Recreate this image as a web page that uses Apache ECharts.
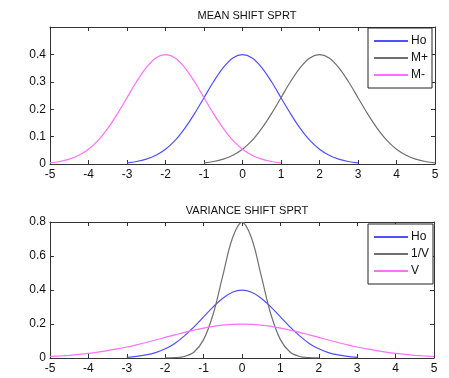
<!DOCTYPE html>
<html>
<head>
<meta charset="utf-8">
<script src="https://cdn.jsdelivr.net/npm/echarts@6/dist/echarts.min.js"></script>
<style>
html, body { margin: 0; padding: 0; background: #fff; }
#main { width: 449px; height: 378px; }
</style>
</head>
<body>
<div id="main"></div>
<script>
// x positions shared by every curve (-5 .. 5, step 0.25)
var xGrid = [-5, -4.75, -4.5, -4.25, -4, -3.75, -3.5, -3.25, -3, -2.75, -2.5, -2.25, -2, -1.75, -1.5, -1.25, -1, -0.75, -0.5, -0.25,
	0, 0.25, 0.5, 0.75, 1, 1.25, 1.5, 1.75, 2, 2.25, 2.5, 2.75, 3, 3.25, 3.5, 3.75, 4, 4.25, 4.5, 4.75, 5];

// MEAN SHIFT SPRT
var meanHo = [null, null, null, null, null, null, null, null,
	0.004, 0.009, 0.018, 0.032, 0.054, 0.086, 0.130, 0.183, 0.242, 0.301, 0.352, 0.387, 0.399,
	0.387, 0.352, 0.301, 0.242, 0.183, 0.130, 0.086, 0.054, 0.032, 0.018, 0.009, 0.004,
	null, null, null, null, null, null, null, null];
var meanPlus = [null, null, null, null, null, null, null, null, null, null, null, null, null, null, null, null,
	0.004, 0.009, 0.018, 0.032, 0.054, 0.086, 0.130, 0.183, 0.242, 0.301, 0.352, 0.387, 0.399,
	0.387, 0.352, 0.301, 0.242, 0.183, 0.130, 0.086, 0.054, 0.032, 0.018, 0.009, 0.004];
var meanMinus = [0.004, 0.009, 0.018, 0.032, 0.054, 0.086, 0.130, 0.183, 0.242, 0.301, 0.352, 0.387, 0.399,
	0.387, 0.352, 0.301, 0.242, 0.183, 0.130, 0.086, 0.054, 0.032, 0.018, 0.009, 0.004,
	null, null, null, null, null, null, null, null, null, null, null, null, null, null, null, null];

// VARIANCE SHIFT SPRT
var varHo = meanHo;
var varInv = [null, null, null, null, null, null, null, null, null, null, null, null,
	0.0003, 0.002, 0.009, 0.035, 0.108, 0.259, 0.484, 0.704, 0.798, 0.704, 0.484, 0.259, 0.108, 0.035, 0.009, 0.002, 0.0003,
	null, null, null, null, null, null, null, null, null, null, null, null];
var varV = [0.0088, 0.0119, 0.0159, 0.0209, 0.027, 0.0344, 0.0432, 0.0533, 0.0648, 0.0775, 0.0913, 0.106, 0.121,
	0.136, 0.151, 0.164, 0.176, 0.186, 0.193, 0.198, 0.1995, 0.198, 0.193, 0.186, 0.176, 0.164, 0.151, 0.136,
	0.121, 0.106, 0.0913, 0.0775, 0.0648, 0.0533, 0.0432, 0.0344, 0.027, 0.0209, 0.0159, 0.0119, 0.0088];

var BLUE = '#5050ff', GRAY = '#707070', PINK = '#ff70ff', AXIS = '#333333';

function pairs(ys) {
	return xGrid.map(function (x, i) { return [x, ys[i]]; }).filter(function (p) { return p[1] !== null; });
}

function xAx(grid, pos, showLabel) {
	return {
		type: 'value', gridIndex: grid, position: pos, min: -5, max: 5, interval: 1,
		axisLine: { show: true, onZero: false, lineStyle: { color: AXIS, width: 1 } },
		axisTick: { show: true, inside: true, length: 4, lineStyle: { color: AXIS } },
		axisLabel: { show: showLabel, color: '#111', fontSize: 12, fontFamily: 'Liberation Sans, Arial', margin: 5 },
		splitLine: { show: false }
	};
}
function yAx(grid, pos, max, step, showLabel) {
	return {
		type: 'value', gridIndex: grid, position: pos, min: 0, max: max, interval: step,
		axisLine: { show: true, onZero: false, lineStyle: { color: AXIS, width: 1 } },
		axisTick: { show: true, inside: true, length: 4, lineStyle: { color: AXIS } },
		axisLabel: {
			show: showLabel, color: '#111', fontSize: 12, fontFamily: 'Liberation Sans, Arial', margin: 4,
			formatter: function (v) { return v > max - 1e-9 && max === 0.5 ? '' : String(Math.round(v * 10) / 10); }
		},
		splitLine: { show: false }
	};
}
function line(name, ys, color, xi, yi) {
	return {
		name: name, type: 'line', data: pairs(ys), xAxisIndex: xi, yAxisIndex: yi,
		showSymbol: false, smooth: 0.35, animation: false,
		lineStyle: { color: color, width: 1.2 }, itemStyle: { color: color }
	};
}
function legend(top, names) {
	return {
		data: names, orient: 'vertical', left: 368, top: top, align: 'left',
		itemWidth: 34, itemHeight: 2, itemGap: 5, icon: 'rect',
		padding: [7, 4, 7, 6], backgroundColor: '#fff', borderColor: '#222', borderWidth: 1,
		textStyle: { color: '#111', fontSize: 12, fontFamily: 'Liberation Sans, Arial', padding: [0, 0, 0, -2] }
	};
}

var chart = echarts.init(document.getElementById('main'));
chart.setOption({
	animation: false,
	backgroundColor: '#fff',
	title: [
		{ text: 'MEAN SHIFT SPRT', left: 242, top: 5, textAlign: 'center',
			textStyle: { fontSize: 11, fontWeight: 'normal', color: '#111', fontFamily: 'Liberation Sans, Arial' } },
		{ text: 'VARIANCE SHIFT SPRT', left: 242, top: 200, textAlign: 'center',
			textStyle: { fontSize: 11, fontWeight: 'normal', color: '#111', fontFamily: 'Liberation Sans, Arial' } }
	],
	grid: [
		{ left: 50, top: 27, width: 385, height: 137 },
		{ left: 50, top: 222, width: 384, height: 136 }
	],
	xAxis: [xAx(0, 'bottom', true), xAx(0, 'top', false), xAx(1, 'bottom', true), xAx(1, 'top', false)],
	yAxis: [yAx(0, 'left', 0.5, 0.1, true), yAx(0, 'right', 0.5, 0.1, false),
		yAx(1, 'left', 0.8, 0.2, true), yAx(1, 'right', 0.8, 0.2, false)],
	legend: [legend(28, ['Ho', 'M+', 'M-']), legend(224, ['Ho', '1/V', 'V'])],
	series: [
		line('Ho', meanHo, BLUE, 0, 0),
		line('M+', meanPlus, GRAY, 0, 0),
		line('M-', meanMinus, PINK, 0, 0),
		line('Ho', varHo, BLUE, 2, 2),
		line('1/V', varInv, GRAY, 2, 2),
		line('V', varV, PINK, 2, 2)
	]
});
</script>
</body>
</html>
